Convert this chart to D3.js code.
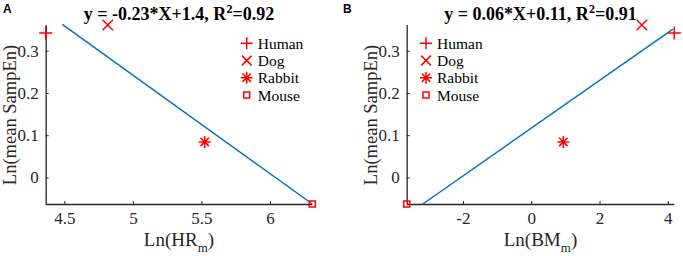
<!DOCTYPE html>
<html><head><meta charset="utf-8">
<script src="https://cdn.jsdelivr.net/npm/d3@7"></script>
<style>body{margin:0;background:#fff}svg{display:block}
svg text{font-family:'Liberation Serif','Times New Roman',serif}
svg text.letter{font-family:'Liberation Sans',Arial,sans-serif}
</style>
</head><body>
<script>
// ---- data ----
const species = ["Human", "Dog", "Rabbit", "Mouse"];
const markers = ["plus", "cross", "asterisk", "square"];
const lnMeanSampEn = [0.342, 0.361, 0.084, -0.063];
const lnHR = [4.364, 4.817, 5.524, 6.309];
const lnBM = [4.19, 3.24, 0.94, -3.647];
const fitAX = [4.485, 6.309];
const fitAY = [0.3625, -0.063];
const fitBX = [-3.176, 4.15];
const fitBY = [-0.063, 0.351];
const yTicks = [0, 0.1, 0.2, 0.3];
const xTicksA = [4.5, 5, 5.5, 6];
const xTicksB = [-2, 0, 2, 4];
const titleA = "y = -0.23*X+1.4, R";
const titleA2 = "=0.92";
const titleB = "y = 0.06*X+0.11, R";
const titleB2 = "=0.91";

const W = 683, H = 256;
const svg = d3.select("body").append("svg").attr("width", W).attr("height", H);
const serif = "'Liberation Serif','Times New Roman',serif";
const axisColor = "#262626";
const red = "#ff0000";

function markerPath(type, s) {
  const h = s / 2;
  const p = d3.path();
  if (type === "plus") { p.moveTo(-h, 0); p.lineTo(h, 0); p.moveTo(0, -h); p.lineTo(0, h); }
  else if (type === "cross") { const k = h * 0.75; p.moveTo(-k, -k); p.lineTo(k, k); p.moveTo(-k, k); p.lineTo(k, -k); }
  else if (type === "asterisk") { const k = h * 0.7; p.moveTo(-h, 0); p.lineTo(h, 0); p.moveTo(0, -h); p.lineTo(0, h);
    p.moveTo(-k, -k); p.lineTo(k, k); p.moveTo(-k, k); p.lineTo(k, -k); }
  else if (type === "square") { p.rect(-h, -h, s, s); }
  return p.toString();
}
const mSize = { plus: 13, cross: 14, asterisk: 12, square: 6 };
const legSize = { plus: 12, cross: 13, asterisk: 12, square: 6 };

function panel(opt) {
  const g = svg.append("g");
  const x = d3.scaleLinear().domain(d3.extent(opt.xs)).range([opt.x0, opt.x1]);
  const y = d3.scaleLinear().domain([d3.min(lnMeanSampEn), d3.max(lnMeanSampEn)]).range([204, 25]);

  const xa = g.append("g").attr("transform", `translate(0,204)`)
    .call(d3.axisBottom(x).tickValues(opt.xTicks).tickSize(-3).tickPadding(6).tickFormat(d => String(d)));
  const ya = g.append("g").attr("transform", `translate(${opt.x0},0)`)
    .call(d3.axisLeft(y).tickValues(yTicks).tickSize(-3).tickPadding(7).tickFormat(d => String(d)));
  [xa, ya].forEach(a => {
    a.attr("font-family", serif).attr("font-size", 17);
    a.select(".domain").attr("stroke", axisColor).attr("stroke-width", 1.3);
    a.selectAll(".tick line").attr("stroke", axisColor).attr("stroke-width", 1);
    a.selectAll("text").style("font-family", serif).style("font-size", "17px").attr("fill", axisColor);
  });
  xa.select(".domain").attr("d", `M${opt.x0},0.5H${opt.x1}`);
  ya.select(".domain").attr("d", `M0.5,${y.range()[0]}V${y.range()[1]}`);
  xa.selectAll("text").attr("dy", "0.8em");

  g.append("path")
    .datum(opt.fitX.map((v, i) => [v, opt.fitY[i]]))
    .attr("d", d3.line().x(d => x(d[0])).y(d => y(d[1])))
    .attr("fill", "none").attr("stroke", "#0072BD").attr("stroke-width", 1.5);

  species.forEach((s, i) => {
    g.append("path").attr("d", markerPath(markers[i], mSize[markers[i]]))
      .attr("transform", `translate(${x(opt.xs[i])},${y(lnMeanSampEn[i])})`)
      .attr("fill", "none").attr("stroke", red).attr("stroke-width", 1.5);
  });

  const rows = [43.3, 60.5, 77.7, 95];
  species.forEach((s, i) => {
    const m = markers[i];
    g.append("path").attr("d", markerPath(m, legSize[m]))
      .attr("transform", `translate(${opt.legX},${rows[i]})`)
      .attr("fill", "none").attr("stroke", red).attr("stroke-width", 1.5);
    g.append("text").attr("x", opt.legX + 11).attr("y", rows[i] + 5.5)
      .style("font-family", serif).style("font-size", "15.5px").attr("fill", "#000").text(s);
  });

  const cx = (opt.x0 + opt.x1) / 2;
  const t = g.append("text").attr("x", cx).attr("y", 20).attr("text-anchor", "middle")
    .style("font-size", "18px").attr("font-weight", "bold").attr("fill", "#000");
  t.append("tspan").text(opt.title);
  t.append("tspan").attr("dy", -7).style("font-size", "12px").text("2");
  t.append("tspan").attr("dy", 7).text(opt.title2);

  const xl = g.append("text").attr("x", cx).attr("y", 246).attr("text-anchor", "middle")
    .style("font-size", "19px").attr("fill", axisColor);
  xl.append("tspan").text(opt.xLabel);
  xl.append("tspan").attr("dy", 6).style("font-size", "13px").text("m");
  xl.append("tspan").attr("dy", -6).text(")");

  g.append("text").attr("transform", `translate(${opt.x0 - 30},115) rotate(-90)`)
    .attr("text-anchor", "middle").style("font-size", "18.5px").attr("fill", axisColor)
    .text("Ln(mean SampEn)");

  g.append("text").attr("class", "letter").attr("x", opt.letterX).attr("y", 13)
    .attr("font-weight", "bold").style("font-size", "12px").attr("fill", "#000").text(opt.letter);
}

panel({ xs: lnHR, x0: 45.7, x1: 312.3, xTicks: xTicksA, fitX: fitAX, fitY: fitAY, legX: 246.7,
  title: titleA, title2: titleA2, xLabel: "Ln(HR", letter: "A", letterX: 3 });
panel({ xs: lnBM, x0: 406.7, x1: 674.3, xTicks: xTicksB, fitX: fitBX, fitY: fitBY, legX: 426,
  title: titleB, title2: titleB2, xLabel: "Ln(BM", letter: "B", letterX: 343 });
</script>
</body></html>
